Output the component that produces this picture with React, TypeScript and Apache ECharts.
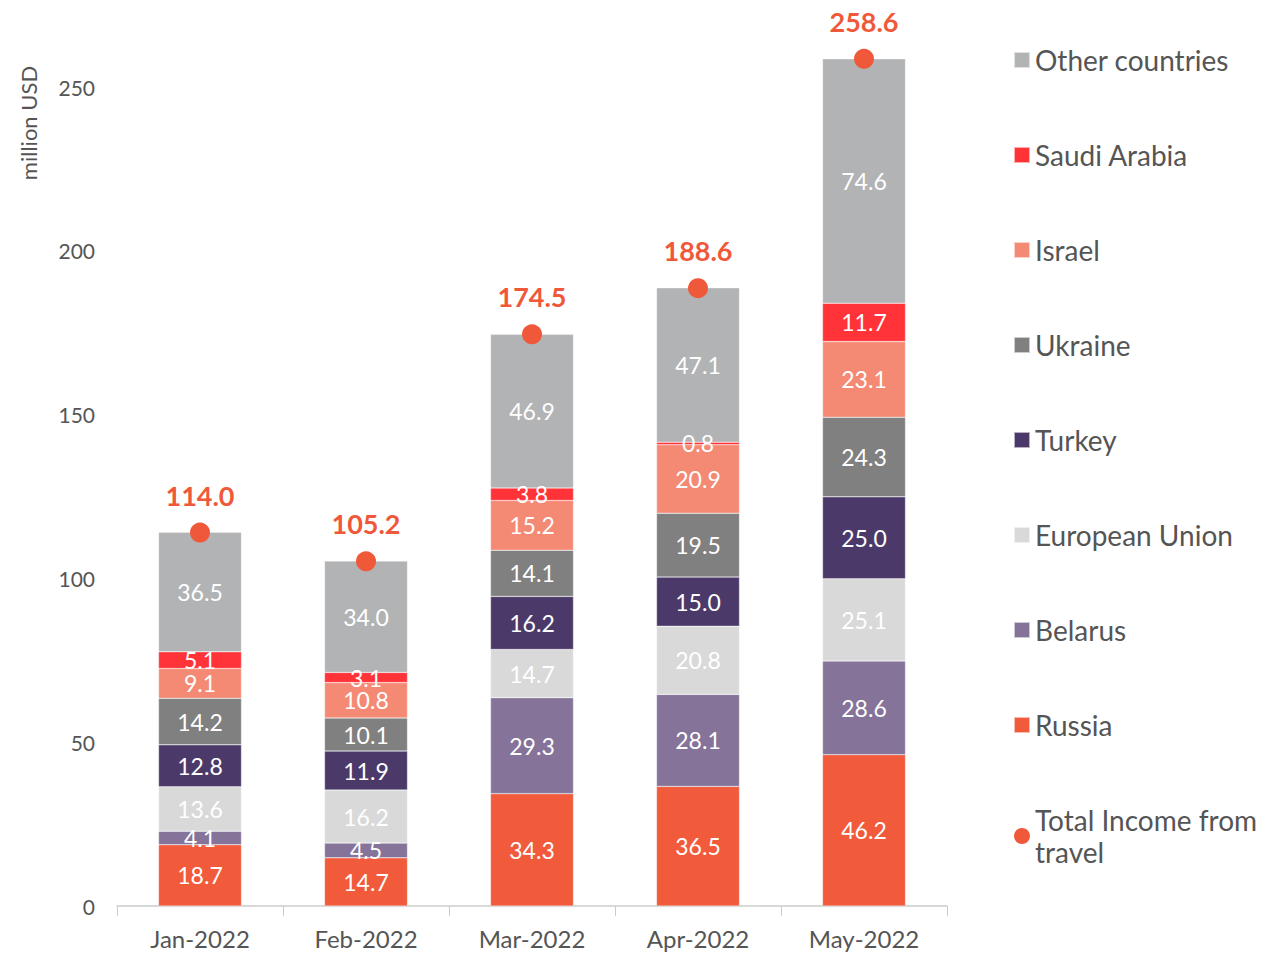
import React, { useEffect, useRef } from "react";
import * as echarts from "echarts";

const categories = ["Jan-2022", "Feb-2022", "Mar-2022", "Apr-2022", "May-2022"];
const russia = [18.7, 14.7, 34.3, 36.5, 46.2];
const belarus = [4.1, 4.5, 29.3, 28.1, 28.6];
const eu = [13.6, 16.2, 14.7, 20.8, 25.1];
const turkey = [12.8, 11.9, 16.2, 15.0, 25.0];
const ukraine = [14.2, 10.1, 14.1, 19.5, 24.3];
const israel = [9.1, 10.8, 15.2, 20.9, 23.1];
const saudi = [5.1, 3.1, 3.8, 0.8, 11.7];
const other = [36.5, 34.0, 46.9, 47.1, 74.6];
const totals = [114.0, 105.2, 174.5, 188.6, 258.6];

const FONT = "Lato, 'Open Sans', sans-serif";

const barSeries = [
  { name: "Russia", data: russia, color: "#F15A3A" },
  { name: "Belarus", data: belarus, color: "#857399" },
  { name: "European Union", data: eu, color: "#D9D9D9" },
  { name: "Turkey", data: turkey, color: "#4B3A69" },
  { name: "Ukraine", data: ukraine, color: "#808080" },
  { name: "Israel", data: israel, color: "#F48A74" },
  { name: "Saudi Arabia", data: saudi, color: "#FF3338" },
  { name: "Other countries", data: other, color: "#B2B3B5" },
];

export default function App() {
  const ref = useRef<HTMLDivElement>(null);
  useEffect(() => {
    if (!ref.current) return;
    const chart = echarts.init(ref.current, undefined, { renderer: "svg" });
    const series: any[] = barSeries.map((s) => ({
      name: s.name,
      type: "bar",
      stack: "total",
      barWidth: "50%",
      data: s.data,
      itemStyle: { color: s.color, borderColor: "rgba(255,255,255,0.6)", borderWidth: 0.5 },
      label: {
        show: true,
        position: "inside",
        color: "#fff",
        fontFamily: FONT,
        fontSize: 23,
        formatter: (p: any) => Number(p.value).toFixed(1),
      },
    }));
    series.push({
      name: "Total Income from\ntravel",
      type: "scatter",
      data: totals,
      symbol: "circle",
      symbolSize: 20,
      itemStyle: { color: "#F0583A", opacity: 1 },
      z: 10,
      label: {
        show: true,
        position: "top",
        distance: 14,
        color: "#F0583A",
        fontFamily: FONT,
        fontSize: 27,
        fontWeight: "bold",
        formatter: (p: any) => Number(p.value).toFixed(1),
      },
    });
    chart.setOption({
      animation: false,
      grid: { left: 117, right: 316, top: 21.5, bottom: 47 },
      legend: {
        orient: "vertical",
        left: 1008,
        top: 39,
        itemWidth: 16,
        itemHeight: 16,
        itemGap: 63,
        textStyle: { fontFamily: FONT, fontSize: 28, color: "#555", lineHeight: 32 },
        data: [
          { name: "Other countries", icon: "rect" },
          { name: "Saudi Arabia", icon: "rect" },
          { name: "Israel", icon: "rect" },
          { name: "Ukraine", icon: "rect" },
          { name: "Turkey", icon: "rect" },
          { name: "European Union", icon: "rect" },
          { name: "Belarus", icon: "rect" },
          { name: "Russia", icon: "rect" },
          { name: "Total Income from\ntravel", icon: "circle" },
        ],
      },
      xAxis: {
        type: "category",
        data: categories,
        axisLine: { lineStyle: { color: "#cccccc", width: 1.5 } },
        axisTick: { show: true, length: 10, lineStyle: { color: "#cccccc" } },
        axisLabel: { fontFamily: FONT, fontSize: 24, color: "#555", margin: 20 },
      },
      yAxis: {
        type: "value",
        min: 0,
        max: 270,
        interval: 50,
        splitLine: { show: false },
        axisLine: { show: false },
        axisTick: { show: false },
        axisLabel: { fontFamily: FONT, fontSize: 21, color: "#555", margin: 22, showMaxLabel: false },
      },
      graphic: [
        {
          type: "text",
          x: 28,
          y: 123,
          rotation: Math.PI / 2,
          style: {
            text: "million USD",
            fontFamily: FONT,
            fontSize: 22,
            fill: "#555",
            align: "center",
            verticalAlign: "middle",
          },
        },
      ],
      series,
    });
    return () => chart.dispose();
  }, []);
  return <div ref={ref} style={{ width: 1263, height: 953, position: "absolute", left: 0, top: 0 }} />;
}
